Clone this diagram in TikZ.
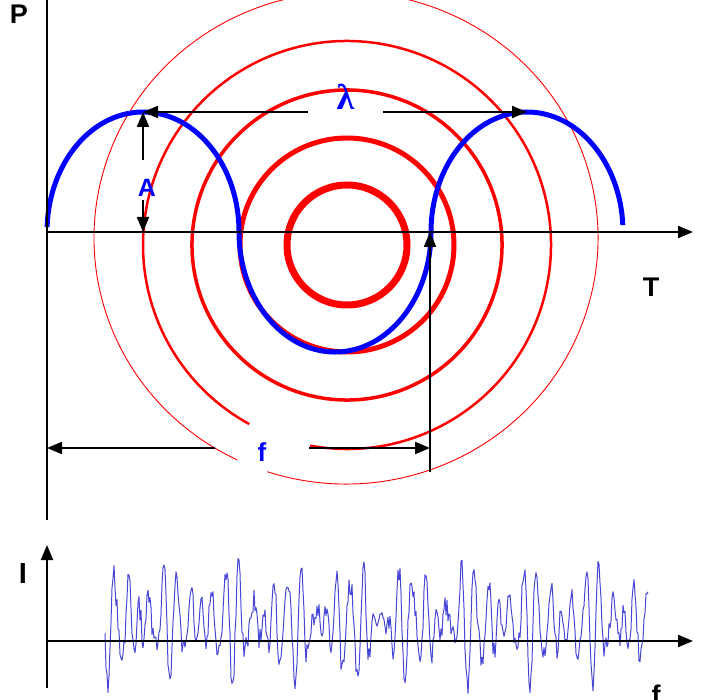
\documentclass[tikz,border=0pt]{standalone}
\usepackage{fontspec}
\setmainfont{Liberation Sans}
\newfontfamily\greekfont{Liberation Serif}
\usetikzlibrary{arrows.meta, positioning}

\begin{document}
\begin{tikzpicture}[x=1pt, y=1pt,
    axis/.style={line width=2pt, -{Triangle[length=15pt, width=12pt]}},
    dim/.style={line width=2pt, -{Triangle[length=15pt, width=12pt]}},
    ring/.style={draw=red},
    wave/.style={draw=blue, line width=5pt},
    lbl/.style={font=\fontsize{27}{27}\selectfont\bfseries, inner sep=0pt},
    blbl/.style={lbl, text=blue},
    noise/.style={draw={rgb,255:red,70;green,70;blue,215}, line width=1pt, line join=round}
]
\useasboundingbox (0,0) rectangle (707,-700);

% centres
\coordinate (C) at (347,-245);
\coordinate (C2) at (346,-238);

% rings
\draw[ring, line width=7pt] (C) circle[radius=60];
\draw[ring, line width=5pt] (C) circle[radius=107];
\draw[ring, line width=3.5pt] ([shift={(77:155)}]C) arc[start angle=77, end angle=464, radius=155];
\draw[ring, line width=2.5pt] ([shift={(259.6:204)}]C) arc[start angle=259.6, end angle=601.4, radius=204];
\draw[ring, line width=0.9pt] ([shift={(251.8:252 and 246)}]C2) arc[start angle=251.8, end angle=604.4, x radius=252, y radius=246];

% wave
\draw[wave] (47.1,-227) arc[start angle=177.6, end angle=0, x radius=96, y radius=120]
    arc[start angle=180, end angle=360, x radius=96, y radius=120]
    arc[start angle=180, end angle=3.3, x radius=96, y radius=120];

% axes
\coordinate (O) at (47,-232);
\coordinate (Tend) at (693,-232);
\coordinate (Ptop) at (47,0);
\coordinate (Pbot) at (47,-520);
\draw[line width=2pt] (Ptop) -- (Pbot);
\draw[axis] (O) -- (Tend);
\node[lbl] (P) at (19,-14) {P};
\node[lbl] (T) at (651,-287) {T};

% points on the wave
\coordinate (pkL) at (143,-112);
\coordinate (pkR) at (527,-112);
\coordinate (zc) at (430,-232);

% labels
\node[blbl, font=\fontsize{25}{25}\selectfont\bfseries] (amp) at (147,-188) {A};
\node[blbl, font=\greekfont\fontsize{36}{36}\selectfont\bfseries, minimum width=75pt] (lam) at (345.5,-97) {λ};
\node[blbl, font=\fontsize{26}{26}\selectfont\bfseries, minimum width=94pt] (fl) at (262,-452) {f};

% dimensions
\coordinate (aTop) at (143,-160);
\coordinate (aBot) at (143,-200);
\coordinate (fL) at (47,-448);
\coordinate (fR) at (430,-448);
\coordinate (fDrop) at (430,-472);
\draw[dim] (lam.west |- pkL) -- (pkL);
\draw[dim] (lam.east |- pkR) -- (pkR);
\draw[dim] (aTop) -- (pkL);
\draw[dim] (aBot) -- (pkL |- O);
\draw[dim] (fl.west |- fL) -- (fL);
\draw[dim] (fl.east |- fL) -- (fR);
\draw[dim] (fDrop) -- (zc);

% spectrum
\coordinate (Ib) at (47,-688);
\coordinate (It) at (47,-545);
\coordinate (Fl) at (47,-641);
\coordinate (Fr) at (693,-641);
\pgfmathsetseed{42}
\draw[noise] plot[domain=0:543, samples=544, variable=\i]
    ({105+\i}, {-(622 + 28*sin(29*\i) + 24*sin(23*\i+40) + 13*sin(2*mod(20*\i,360)+10) + 11*rand)});
\draw[axis] (Ib) -- (It);
\draw[axis] (Fl) -- (Fr);
\node[lbl, font=\fontsize{29}{29}\selectfont\bfseries] (I) at (23,-574) {I};
\node[lbl] (fq) at (656,-695) {f};

\end{tikzpicture}
\end{document}
